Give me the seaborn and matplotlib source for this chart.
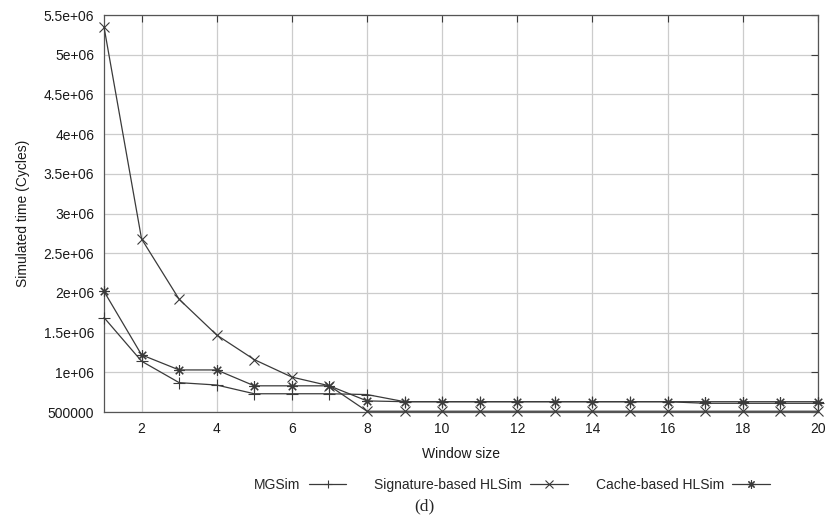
# Simulated time vs window size (d)

import pandas as pd
import matplotlib.pyplot as plt
import seaborn as sns

# dados
janela = list(range(1, 21))
mgsim = [1.69e6, 1.14e6, 0.87e6, 0.84e6, 0.73e6, 0.73e6, 0.73e6, 0.72e6,
         0.63e6, 0.63e6, 0.63e6, 0.63e6, 0.63e6, 0.63e6, 0.63e6, 0.63e6,
         0.61e6, 0.61e6, 0.61e6, 0.61e6]
signature = [5.35e6, 2.68e6, 1.92e6, 1.47e6, 1.16e6, 0.94e6, 0.83e6, 0.51e6,
             0.51e6, 0.51e6, 0.51e6, 0.51e6, 0.51e6, 0.51e6, 0.51e6, 0.51e6,
             0.51e6, 0.51e6, 0.51e6, 0.51e6]
cache = [2.02e6, 1.22e6, 1.03e6, 1.03e6, 0.83e6, 0.83e6, 0.83e6, 0.64e6,
         0.63e6, 0.63e6, 0.63e6, 0.63e6, 0.63e6, 0.63e6, 0.63e6, 0.63e6,
         0.63e6, 0.63e6, 0.63e6, 0.63e6]

nomes = ['MGSim', 'Signature-based HLSim', 'Cache-based HLSim']
yticks = [500000, 1e6, 1.5e6, 2e6, 2.5e6, 3e6, 3.5e6, 4e6, 4.5e6, 5e6, 5.5e6]
ytick_labels = ['500000', '1e+06', '1.5e+06', '2e+06', '2.5e+06', '3e+06',
                '3.5e+06', '4e+06', '4.5e+06', '5e+06', '5.5e+06']
xticks = list(range(2, 21, 2))

df = pd.DataFrame({'janela': janela * 3,
                   'tempo': mgsim + signature + cache,
                   'serie': [nomes[0]] * 20 + [nomes[1]] * 20 + [nomes[2]] * 20})

sns.set_style('white')
plt.rcParams['font.family'] = ['Liberation Sans', 'DejaVu Sans']

fig = plt.figure(figsize=(8.26, 5.25), dpi=100)
ax = fig.add_axes([0.1259, 0.2152, 0.8643, 0.7562])

cor = '#3a3a3a'
marcadores = {nomes[0]: '+', nomes[1]: 'x', nomes[2]: (8, 2, 0)}
tamanhos = {nomes[0]: 8, nomes[1]: 6.5, nomes[2]: 7.5}
for nome in nomes:
    sns.lineplot(data=df[df['serie'] == nome], x='janela', y='tempo', ax=ax,
                 color=cor, linewidth=0.9, marker=marcadores[nome],
                 markersize=tamanhos[nome], markeredgewidth=0.8,
                 markeredgecolor=cor, label=nome, legend=False, clip_on=False,
                 zorder=3)

ax.set_xlim(1, 20)
ax.set_ylim(500000, 5.5e6)
ax.set_xticks(xticks)
ax.set_yticks(yticks)
ax.set_yticklabels(ytick_labels)
ax.grid(True, color='#cccccc', linewidth=0.9)
ax.tick_params(direction='in', length=5, width=0.8, colors=cor,
               labelsize=10, labelcolor='#1a1a1a', pad=7,
               top=True, right=True)
for s in ax.spines.values():
    s.set_color('#555555')
    s.set_linewidth(0.9)

ax.set_xlabel('Window size', fontsize=10, color='#1a1a1a', labelpad=8)
ax.set_ylabel('Simulated time (Cycles)', fontsize=10, color='#1a1a1a', labelpad=10)

handles, labels = ax.get_legend_handles_labels()
fig.legend(handles, labels, loc='center', bbox_to_anchor=(512 / 826, 1 - 485 / 525),
           ncol=3, frameon=False, markerfirst=False, handlelength=2.7,
           columnspacing=2.0, handletextpad=0.6, fontsize=10, markerscale=0.8)

fig.text(424 / 826, 1 - 506 / 525, '(d)', ha='center', va='center',
         fontsize=12.5, family=['Liberation Serif', 'DejaVu Serif'])

fig.savefig('out.png', dpi=100)
